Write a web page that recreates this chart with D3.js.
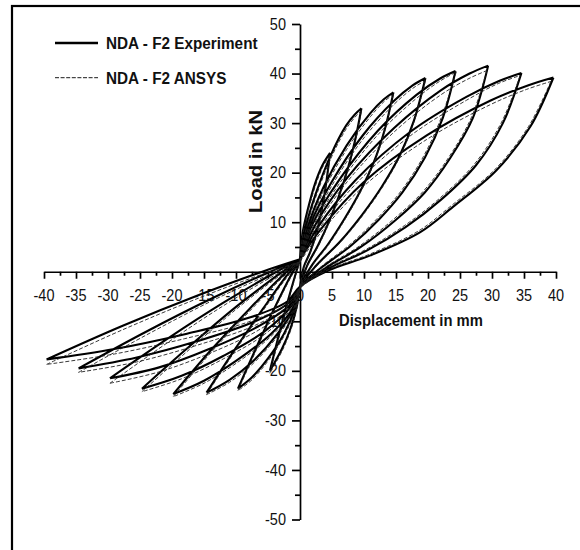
<!DOCTYPE html>
<html><head><meta charset="utf-8">
<script src="https://cdn.jsdelivr.net/npm/d3@7"></script>
<style>
html,body{margin:0;padding:0;background:#fff;}
svg{display:block;font-family:"Liberation Sans",Arial,sans-serif;}
</style></head><body>
<svg id="chart" width="580" height="550"></svg>
<script>
// ---------- data ----------
const seriesNames = ["NDA - F2 Experiment", "NDA - F2 ANSYS"];
const xTicks = [-40,-35,-30,-25,-20,-15,-10,-5,0,5,10,15,20,25,30,35,40];
const yTicks = [50,40,30,20,10,-10,-20,-30,-40,-50];
const xLabel = "Displacement in mm";
const yLabel = "Load in kN";

// Experiment: loading branch (pinch point -> positive peak)
const experimentLoading = [
 [[0,2.5],[0.4,7.8],[1.2,12.5],[2.35,17.8],[3.5,21.5],[4.7,24]],
 [[0,2.5],[0.8,8.5],[2.4,15.5],[4.8,23.5],[7.2,29.5],[8.6,31.8],[9.6,33]],
 [[0,2.5],[1.2,9],[3.65,17],[7.3,25.5],[11,32],[13.1,34.8],[14.6,36.2]],
 [[0,2.5],[1.6,9.5],[4.9,18],[9.8,27.5],[14.7,34.5],[17.6,37.6],[19.6,39.1]],
 [[0,2.5],[1.9,9.5],[6.1,18.5],[12.2,28.5],[18.2,35.7],[21.9,39],[24.3,40.5]],
 [[0,2.5],[2.4,9.5],[7.4,19],[14.7,29],[22,36.6],[26.5,40],[29.4,41.6]],
 [[0,2.5],[2.8,9],[8.7,18.5],[17.3,28.3],[26,35.3],[31.1,38.5],[34.6,40.1]],
 [[0,2.5],[3.2,8.5],[9.9,18],[19.8,27.5],[29.7,34.5],[35.6,37.6],[39.6,39.2]]
];
// Experiment: unloading + reverse loading (positive peak -> negative peak)
const experimentUnloading = [
 [[4.7,24],[4.1,18],[3.4,12.5],[2.6,8],[1.6,4],[0.6,1],[0,-3],[-0.5,-7],[-1.5,-11.5],[-2.8,-15.5],[-4.7,-20]],
 [[9.6,33],[8.6,26.5],[7.4,20.5],[6,15],[4.5,10],[2.8,5.3],[1.1,1.2],[0,-3],[-0.8,-7.5],[-2.5,-12.5],[-5,-17.5],[-7.5,-21.3],[-9.7,-23.6]],
 [[14.6,36.2],[13.2,28.5],[11.5,22],[9.3,16],[7,10.8],[4.4,5.6],[1.8,1.2],[0,-3],[-1,-7.5],[-3.5,-12.5],[-7.3,-18],[-11,-21.8],[-14.6,-24.4]],
 [[19.6,39.1],[17.8,30.5],[15.6,23.5],[12.7,17],[9.7,11.5],[6.2,6],[2.5,1.2],[0,-3],[-1.2,-7.5],[-4.5,-12.5],[-10,-18],[-15,-22],[-19.8,-24.7]],
 [[24.3,40.5],[22.3,31],[19.5,23],[16,16],[12.3,10.5],[8,5.3],[3.2,0.7],[0,-3],[-1.4,-7],[-5.5,-12],[-12,-17],[-18.5,-21],[-24.7,-23.6]],
 [[29.4,41.6],[27,31],[23.5,23],[19.5,16],[15,10.5],[9.5,5],[3.8,0.6],[0,-3],[-1.6,-6.7],[-6.5,-11],[-14,-15.5],[-22,-19.3],[-29.7,-21.5]],
 [[34.6,40.1],[31.7,30],[27.5,21.5],[22,14.5],[16.5,9],[10.5,4.3],[4.2,0.5],[0,-3],[-1.8,-6.3],[-7,-10],[-16,-14],[-25.5,-17.3],[-34.6,-19.5]],
 [[39.6,39.2],[36,29.3],[30.7,20.5],[23.9,13.1],[18.8,8],[11,3.3],[4.5,0.3],[0,-3],[-2,-6],[-8,-9.3],[-18,-12.6],[-29,-15.6],[-39.6,-17.7]]
];
// Experiment: return branch (negative peak -> pinch point)
const experimentReturn = [
 [[-4.7,-20],[-3.3,-12.7],[-1.9,-5.9],[-0.7,-0.5],[0,2.5]],
 [[-9.7,-23.6],[-6.8,-15.2],[-3.9,-7.1],[-1.5,-0.9],[0,2.5]],
 [[-14.6,-24.4],[-10.2,-15.7],[-5.8,-7.5],[-2.2,-1.0],[0,2.5]],
 [[-19.8,-24.7],[-13.9,-15.8],[-7.9,-7.5],[-3,-1.1],[0,2.5]],
 [[-24.7,-23.6],[-17.3,-15.1],[-9.9,-7],[-3.7,-0.9],[0,2.5]],
 [[-29.7,-21.5],[-20.8,-13.6],[-11.9,-6.2],[-4.5,-0.6],[0,2.5]],
 [[-34.6,-19.5],[-24.2,-12.2],[-13.8,-5.4],[-5.2,-0.3],[0,2.5]],
 [[-39.6,-17.7],[-27.7,-10.9],[-15.8,-4.7],[-5.9,0],[0,2.5]]
];

// ANSYS
const ansysLoading = [
 [[0,2],[0.4,7.2],[1.2,12],[2.4,17.3],[3.5,21],[4.7,23.5]],
 [[0,2],[0.8,7.8],[2.4,14.8],[4.8,22.8],[7.2,28.8],[8.6,31.2],[9.6,32.5]],
 [[0,2],[1.2,8.3],[3.65,16.2],[7.3,24.7],[11,31.3],[13.1,34.3],[14.6,35.8]],
 [[0,2],[1.6,8.8],[4.9,17.2],[9.8,26.7],[14.7,33.8],[17.6,37],[19.6,38.6]],
 [[0,2],[1.9,8.8],[6.1,17.7],[12.2,27.7],[18.2,35],[21.9,38.5],[24.4,40.3]],
 [[0,2],[2.4,8.8],[7.4,18.2],[14.7,28.2],[22,35.7],[26.4,39],[29.2,40.6]],
 [[0,2],[2.8,8.3],[8.7,17.7],[17.3,27.5],[26,34.6],[31,38],[34.4,39.6]],
 [[0,2],[3.2,7.8],[9.9,17.2],[19.8,26.7],[29.7,33.7],[35.4,36.8],[39.2,38.4]]
];
const ansysUnloading = [
 [[4.7,23.5],[4.1,17.6],[3.4,12.2],[2.6,7.8],[1.6,3.8],[0.6,0.8],[0,-3.3],[-0.5,-7.4],[-1.5,-12],[-2.8,-16],[-4.7,-20.5]],
 [[9.6,32.5],[8.6,26],[7.4,20.1],[6,14.7],[4.5,9.7],[2.8,5],[1.1,1],[0,-3.3],[-0.8,-8],[-2.5,-13],[-5,-18],[-7.5,-21.8],[-9.7,-24]],
 [[14.6,35.8],[13.2,28.2],[11.5,21.7],[9.3,15.7],[7,10.5],[4.4,5.3],[1.8,1],[0,-3.3],[-1,-8],[-3.5,-13],[-7.3,-18.5],[-11,-22.3],[-14.6,-24.8]],
 [[19.6,38.6],[17.8,30.2],[15.6,23.2],[12.7,16.7],[9.7,11.2],[6.2,5.8],[2.5,1],[0,-3.3],[-1.2,-8],[-4.5,-13],[-10,-18.5],[-15,-22.5],[-19.8,-25.2]],
 [[24.4,40.3],[22.1,31.2],[19.3,23.3],[15.8,16.3],[12.1,10.8],[7.8,5.5],[3.1,0.8],[0,-3.3],[-1.4,-7.5],[-5.5,-12.6],[-12,-17.6],[-18.5,-21.6],[-24.7,-24.2]],
 [[29.2,40.6],[26.8,31.2],[23.3,23.2],[19.3,16.3],[14.8,10.8],[9.3,5.2],[3.7,0.7],[0,-3.3],[-1.6,-7.2],[-6.5,-11.8],[-14,-16.4],[-22,-20.2],[-29.7,-22.5]],
 [[34.4,39.6],[31.5,30.2],[27.3,21.8],[21.8,14.8],[16.3,9.3],[10.3,4.5],[4.1,0.6],[0,-3.3],[-1.8,-6.8],[-7,-10.8],[-16,-14.8],[-25.5,-18.2],[-34.6,-20.3]],
 [[39.2,38.4],[35.7,29.3],[30.5,20.7],[23.7,13.4],[18.6,8.3],[10.8,3.5],[4.4,0.4],[0,-3.3],[-2,-6.5],[-8,-10.1],[-18,-13.5],[-29,-16.6],[-39.6,-18.7]]
];
const ansysReturn = [
 [[-4.7,-20.5],[-3.3,-13.4],[-1.9,-6.3],[-0.7,-0.9],[0,2]],
 [[-9.7,-24],[-6.8,-15.7],[-3.9,-7.5],[-1.5,-1.3],[0,2]],
 [[-14.6,-24.8],[-10.2,-16.1],[-5.8,-7.9],[-2.2,-1.4],[0,2]],
 [[-19.8,-25.2],[-13.9,-16.3],[-7.9,-8],[-3,-1.5],[0,2]],
 [[-24.7,-24.2],[-17.3,-15.7],[-9.9,-7.5],[-3.7,-1.3],[0,2]],
 [[-29.7,-22.5],[-20.8,-14.4],[-11.9,-6.8],[-4.5,-1.1],[0,2]],
 [[-34.6,-20.3],[-24.2,-12.9],[-13.8,-5.9],[-5.2,-0.8],[0,2]],
 [[-39.6,-18.7],[-27.7,-11.7],[-15.8,-5.3],[-5.9,-0.5],[0,2]]
];

// ---------- drawing ----------
const svg = d3.select("#chart");
const x = d3.scaleLinear().domain([-40, 40]).range([44, 556]);
const y = d3.scaleLinear().domain([-50, 50]).range([519.5, 24]);
const sy = 1.1; // vertical stretch of glyphs in the reference

// outer frame (only left/top visible)
svg.append("rect").attr("x", 12).attr("y", 6).attr("width", 620).attr("height", 620)
  .attr("fill", "none").attr("stroke", "#000").attr("stroke-width", 2.2);

// x axis
const gx = svg.append("g").attr("transform", `translate(0,${y(0)})`);
gx.call(d3.axisBottom(x).tickValues(xTicks).tickSize(7).tickSizeOuter(0).tickFormat(""));
const gxm = svg.append("g").attr("transform", `translate(0,${y(0)})`);
gxm.call(d3.axisBottom(x).tickValues(d3.range(-37.5, 40, 5)).tickSize(4).tickFormat(""));
gxm.select(".domain").remove();

// y axis
const gy = svg.append("g").attr("transform", `translate(${x(0)},0)`);
gy.call(d3.axisLeft(y).tickValues(yTicks).tickSize(8).tickSizeOuter(0).tickFormat(""));
const gym = svg.append("g").attr("transform", `translate(${x(0)},0)`);
gym.call(d3.axisLeft(y).tickValues(d3.range(-45, 50, 10)).tickSize(5).tickFormat(""));
gym.select(".domain").remove();

svg.selectAll(".domain, .tick line").attr("stroke", "#000").attr("stroke-width", 1.7);

// tick labels
svg.append("g").selectAll("text").data(xTicks).join("text")
  .attr("transform", d => `translate(${x(d)},301) scale(1,${sy})`)
  .attr("text-anchor", "middle").attr("font-size", 14.5).attr("fill", "#111")
  .text(d => d);
svg.append("g").selectAll("text").data(yTicks).join("text")
  .attr("transform", d => `translate(${x(0) - 14},${y(d) + 5.6}) scale(1,${sy})`)
  .attr("text-anchor", "end").attr("font-size", 14.5).attr("fill", "#111")
  .text(d => d);

// axis titles
svg.append("text").attr("transform", `translate(339,326) scale(1,1.06)`)
  .attr("font-size", 14.8).attr("font-weight", "bold").attr("fill", "#111").text(xLabel);
svg.append("text").attr("transform", `translate(262,213) rotate(-90) scale(1.12,1)`)
  .attr("font-size", 18).attr("font-weight", "bold").attr("fill", "#111").text(yLabel);

// curves
const line = d3.line().x(d => x(d[0])).y(d => y(d[1])).curve(d3.curveCatmullRom.alpha(0.5));
function loopsPath(load, unload, ret) {
  let s = "";
  for (let i = 0; i < load.length; i++) s += line(load[i]) + line(unload[i]) + line(ret[i]);
  return s;
}
svg.append("path").attr("d", loopsPath(experimentLoading, experimentUnloading, experimentReturn))
  .attr("fill", "none").attr("stroke", "#000").attr("stroke-width", 2.1).attr("stroke-linejoin", "round");
svg.append("path").attr("d", loopsPath(ansysLoading, ansysUnloading, ansysReturn))
  .attr("fill", "none").attr("stroke", "#222").attr("stroke-width", 0.9).attr("stroke-dasharray", "4,2");

// legend
const legend = [
  {name: seriesNames[0], dash: null, w: 2.4, ly: 43, ty: 49.3},
  {name: seriesNames[1], dash: "4,1.6", w: 0.9, ly: 77.7, ty: 83.5}
];
legend.forEach(l => {
  svg.append("line").attr("x1", 55).attr("x2", 98).attr("y1", l.ly).attr("y2", l.ly)
    .attr("stroke", "#000").attr("stroke-width", l.w).attr("stroke-dasharray", l.dash);
  svg.append("text").attr("transform", `translate(106,${l.ty}) scale(1,${sy})`)
    .attr("font-size", 15.3).attr("font-weight", "bold").attr("fill", "#111").text(l.name);
});
</script>
</body></html>
